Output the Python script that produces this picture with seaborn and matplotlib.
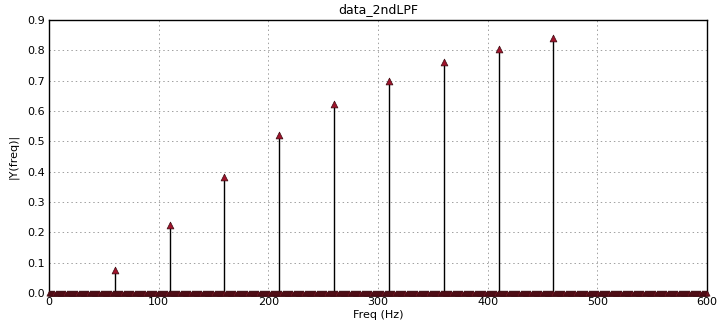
import numpy as np
import pandas as pd
import matplotlib
matplotlib.use("Agg")
import matplotlib.pyplot as plt
import seaborn as sns

# tone frequencies and the spectrum magnitude
tone_freq = [60, 110, 160, 210, 260, 310, 360, 410, 460]
tone_mag = [0.076, 0.224, 0.382, 0.520, 0.623, 0.700, 0.762, 0.805, 0.841]

# FFT bins with no tone sit on zero
bin_freq = np.arange(0, 601, 1)
bin_mag = np.zeros(len(bin_freq))

x_ticks = [0, 100, 200, 300, 400, 500, 600]
y_ticks = [0.0, 0.1, 0.2, 0.3, 0.4, 0.5, 0.6, 0.7, 0.8, 0.9]


def main():
    sns.set_style("white")
    plt.rcParams["font.family"] = ["DejaVu Sans"]
    plt.rcParams["text.color"] = "black"
    plt.rcParams["axes.labelcolor"] = "black"
    plt.rcParams["xtick.color"] = "black"
    plt.rcParams["ytick.color"] = "black"

    fig = plt.figure(figsize=(7.2, 3.33), dpi=100)
    ax = fig.add_axes([0.068, 0.12, 0.914, 0.82])

    df_bins = pd.DataFrame({"freq": bin_freq, "mag": bin_mag})
    df_tones = pd.DataFrame({"freq": tone_freq, "mag": tone_mag})

    # stems
    ax.vlines(df_tones["freq"], 0, df_tones["mag"], color="black", lw=1.0, zorder=2)

    # zero bins -> dense band of markers along the baseline
    sns.scatterplot(data=df_bins, x="freq", y="mag", marker="^", s=14,
                    color="#6e1220", edgecolor="#3a0a10", linewidth=0.4,
                    ax=ax, zorder=3, legend=False, clip_on=False)
    sns.scatterplot(data=df_tones, x="freq", y="mag", marker="^", s=24,
                    color="#a0142c", edgecolor="#3a0a10", linewidth=0.5,
                    ax=ax, zorder=4, legend=False)

    ax.set_xlim(0, 600)
    ax.set_ylim(0, 0.9)
    ax.set_xticks(x_ticks)
    ax.set_yticks(y_ticks)
    ax.set_yticklabels(["%.1f" % v for v in y_ticks])
    ax.grid(True, linestyle=(0, (1.5, 3)), color="#a0a0a0", lw=0.7)
    ax.set_axisbelow(True)
    for s in ax.spines.values():
        s.set_color("black")
        s.set_linewidth(1.0)
    ax.tick_params(labelsize=8, length=0, pad=3)

    ax.set_xlabel("Freq (Hz)", fontsize=8, labelpad=2)
    ax.set_ylabel("|Y(freq)|", fontsize=8, labelpad=6)
    ax.set_title("data_2ndLPF", fontsize=9, pad=5)

    fig.savefig("out.png", dpi=100)


if __name__ == "__main__":
    main()
